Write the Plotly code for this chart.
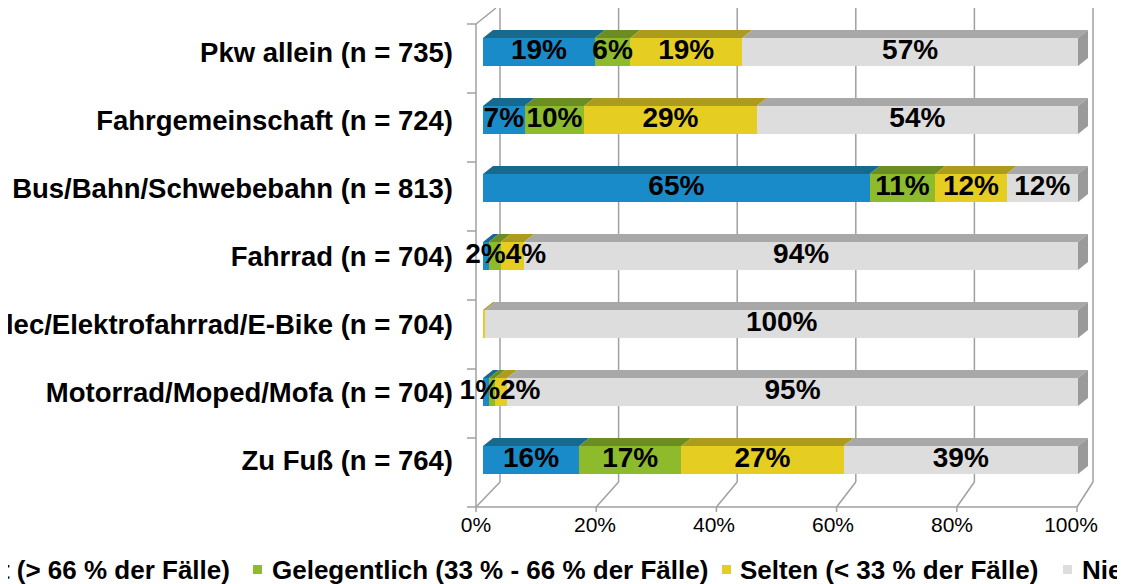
import numpy as np
import plotly.graph_objects as go

# ---------------- data ----------------
categories = [
    "Pkw allein (n = 735)",
    "Fahrgemeinschaft (n = 724)",
    "Bus/Bahn/Schwebebahn (n = 813)",
    "Fahrrad (n = 704)",
    "Pedelec/Elektrofahrrad/E-Bike (n = 704)",
    "Motorrad/Moped/Mofa (n = 704)",
    "Zu Fuß (n = 764)",
]
series_names = [
    "Oft (> 66 % der Fälle)",
    "Gelegentlich (33 % - 66 % der Fälle)",
    "Selten (< 33 % der Fälle)",
    "Nie (0 % der Fälle)",
]
oft = [19, 7, 65, 1, 0, 1, 16]
gelegentlich = [6, 10, 11, 2, 0, 1, 17]
selten = [19, 29, 12, 4, 0.4, 2, 27]
nie = [57, 54, 12, 94, 100, 95, 39]

x_ticks = [0, 20, 40, 60, 80, 100]
x_tick_labels = ["0%", "20%", "40%", "60%", "80%", "100%"]

# ---------------- styles ----------------
front_colors = ["#1A8BC9", "#8DBB2B", "#E6CD22", "#DDDDDD"]
top_colors = ["#16698F", "#6B8D22", "#AD9B1F", "#A8A8A8"]
side_color = "#9A9A9A"
wall_color = "#A0A0A0"
FONT = "Liberation Sans, Arial, sans-serif"

label_shown = [
    [True, True, True, False, False, False, True],
    [True, True, True, True, False, True, True],
    [True, True, True, True, False, True, True],
    [True] * 7,
]
# small segments: labels placed side by side around the green/yellow boundary
label_pos = [
    ["middle center"] * 7,
    ["middle center"] * 3 + ["middle left", "middle center", "middle left", "middle center"],
    ["middle center"] * 3 + ["middle right", "middle center", "middle right", "middle center"],
    ["middle center"] * 7,
]
at_boundary = [False, False, False, True, False, True, False]

# ---------------- geometry (screen pixel layout) ----------------
OFF = 8                    # page body margin offset
W, H = 1125, 584
PLOT_L, PLOT_R, PLOT_T, PLOT_B = 460, 1110, 8, 512
PX0, PXS = 483, 5.95       # screen pixel of 0 %, pixels per %
PY0, PYS = 52, 68          # screen pixel of first category, pixels per category


def px2x(px):
    return (px - PX0) / PXS


def py2y(py):
    return (py - PY0) / PYS


def px2paper(px):
    return (px - PLOT_L) / (PLOT_R - PLOT_L)


def py2paper(py):
    return (PLOT_B - py) / (PLOT_B - PLOT_T)


values = np.array([oft, gelegentlich, selten, nie], dtype=float)
norm = values / values.sum(axis=0) * 100
cum = np.cumsum(norm, axis=0)
starts = cum - norm
ypos = np.arange(len(categories))

BAR_H = 28 / PYS
DX = 10 / PXS
DY = 8 / PYS
LABEL_NUDGE = 5 / PXS

fig = go.Figure()

for k in range(4):
    fig.add_trace(go.Bar(
        y=ypos, x=values[k], orientation="h", width=BAR_H,
        marker=dict(color=front_colors[k], line=dict(width=0)),
        name=series_names[k], showlegend=False, hoverinfo="skip",
    ))

for k in range(4):
    xs, ys = [], []
    for i in ypos:
        x0, x1 = starts[k, i], cum[k, i]
        if x1 - x0 <= 0:
            continue
        yt = i - BAR_H / 2
        xs += [x0, x1, x1 + DX, x0 + DX, x0, None]
        ys += [yt, yt, yt - DY, yt - DY, yt, None]
    fig.add_trace(go.Scatter(
        x=xs, y=ys, mode="lines", fill="toself", fillcolor=top_colors[k],
        line=dict(width=0, color=top_colors[k]), hoverinfo="skip", showlegend=False,
    ))

xs, ys = [], []
for i in ypos:
    x1 = cum[3, i]
    yt, yb = i - BAR_H / 2, i + BAR_H / 2
    xs += [x1, x1 + DX, x1 + DX, x1, x1, None]
    ys += [yt, yt - DY, yb - DY, yb, yt, None]
fig.add_trace(go.Scatter(
    x=xs, y=ys, mode="lines", fill="toself", fillcolor=side_color,
    line=dict(width=0, color=side_color), hoverinfo="skip", showlegend=False,
))

for k in range(4):
    centers = (starts[k] + cum[k]) / 2
    if k in (1, 2):
        centers = np.where(at_boundary, cum[1] + LABEL_NUDGE, centers)
    texts = [f"{v:.0f}%" if label_shown[k][i] else "" for i, v in enumerate(values[k])]
    fig.add_trace(go.Scatter(
        x=centers, y=ypos, mode="text", text=texts, textposition=label_pos[k],
        textfont=dict(family=FONT, size=28, color="#000000", weight="bold"),
        hoverinfo="skip", showlegend=False, cliponaxis=False,
    ))

# ---------------- walls / floor ----------------
shapes = []


def line(px0, py0, px1, py1):
    shapes.append(dict(
        type="line", xref="x", yref="y", layer="below",
        x0=px2x(px0), y0=py2y(py0), x1=px2x(px1), y1=py2y(py1),
        line=dict(color=wall_color, width=1.5),
    ))


BACK_X0, BACK_XS = 500, 5.93
FRONT_X0, FRONT_XS = 476, 6.01
WALL_TOP, BACK_FLOOR, FRONT_FLOOR, LEFT_TOP = 8, 482, 507, 24
for t in x_ticks:
    xb = BACK_X0 + BACK_XS * t
    xf = FRONT_X0 + FRONT_XS * t
    line(xb, WALL_TOP, xb, BACK_FLOOR)
    line(xf, FRONT_FLOOR, xb, BACK_FLOOR)
    line(xf, FRONT_FLOOR, xf, FRONT_FLOOR + 5)
line(FRONT_X0, FRONT_FLOOR, FRONT_X0 + FRONT_XS * 100, FRONT_FLOOR)
line(FRONT_X0, LEFT_TOP, FRONT_X0, FRONT_FLOOR)
line(FRONT_X0, LEFT_TOP, BACK_X0 - 4, WALL_TOP)
n = len(categories)
for kk in range(n + 1):
    yk = LEFT_TOP + (FRONT_FLOOR - LEFT_TOP) * kk / n
    line(FRONT_X0 - 9, yk, FRONT_X0, yk)

# ---------------- legend ----------------
annotations = []
LEG_Y = 570
legend_items = [
    (1, 253, 270),
    (2, 722, 738),
    (3, 1063, 1080),
]
annotations.append(dict(
    xref="paper", yref="paper", x=px2paper(232), y=py2paper(LEG_Y),
    xanchor="right", yanchor="middle", text=series_names[0], showarrow=False,
    font=dict(family=FONT, size=26, color="#000000", weight="bold"),
))
for k, sq, tx in legend_items:
    shapes.append(dict(
        type="rect", xref="paper", yref="paper",
        x0=px2paper(sq), x1=px2paper(sq + 9),
        y0=py2paper(LEG_Y - 5), y1=py2paper(LEG_Y + 4),
        fillcolor=front_colors[k], line=dict(width=0),
    ))
    annotations.append(dict(
        xref="paper", yref="paper", x=px2paper(tx), y=py2paper(LEG_Y),
        xanchor="left", yanchor="middle", text=series_names[k], showarrow=False,
        font=dict(family=FONT, size=26, color="#000000", weight="bold"),
    ))

fig.update_layout(
    width=W, height=H,
    margin=dict(l=PLOT_L - OFF, r=W - (PLOT_R - OFF), t=PLOT_T - OFF,
                b=H - (PLOT_B - OFF), autoexpand=False),
    barmode="stack", barnorm="percent", bargap=0,
    plot_bgcolor="white", paper_bgcolor="white",
    shapes=shapes, annotations=annotations,
    showlegend=False,
    xaxis=dict(
        range=[px2x(PLOT_L), px2x(PLOT_R)], tickvals=x_ticks, ticktext=x_tick_labels,
        showgrid=False, zeroline=False, showline=False, ticks="",
        ticklabelshift=-7, ticklabelstandoff=-2,
        tickfont=dict(family=FONT, size=21, color="#000000"),
        automargin=False,
    ),
    yaxis=dict(
        range=[py2y(PLOT_B), py2y(PLOT_T)], tickvals=list(ypos), ticktext=categories,
        showgrid=False, zeroline=False, showline=False, ticks="",
        ticklabelstandoff=6,
        tickfont=dict(family=FONT, size=27.5, color="#000000", weight="bold"),
        automargin=False,
    ),
)

fig.write_html("out.html")
